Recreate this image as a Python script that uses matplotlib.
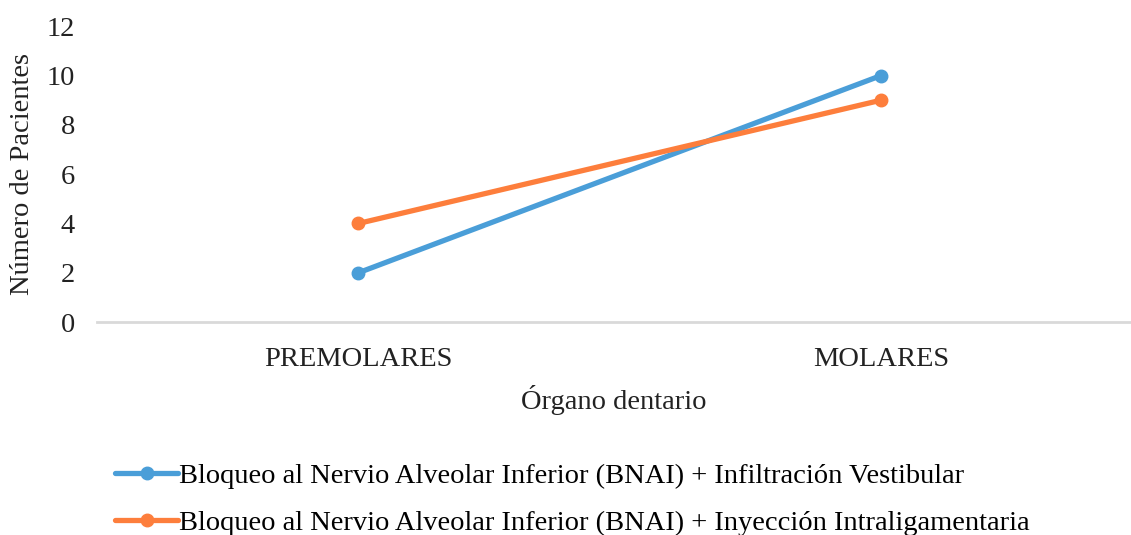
import matplotlib
matplotlib.use("Agg")
import matplotlib.pyplot as plt

# datos
categorias = ["PREMOLARES", "MOLARES"]
bnai_vestibular = [2, 10]
bnai_intraligamentaria = [4, 9]
etiquetas = [
    "Bloqueo al Nervio Alveolar Inferior (BNAI) + Infiltración Vestibular",
    "Bloqueo al Nervio Alveolar Inferior (BNAI) + Inyección Intraligamentaria",
]
yticks = [0, 2, 4, 6, 8, 10, 12]

plt.rcParams['font.family'] = ['Liberation Serif', 'DejaVu Serif']
FS = 20.5

fig = plt.figure(figsize=(11.31, 5.35), dpi=100)
ax = fig.add_axes([0.0858, 0.398, 1.0 - 0.0858, 0.553])

x = list(range(len(categorias)))
ax.plot(x, bnai_vestibular, color='#4A9ED8', lw=3.8, marker='o', ms=9,
        label=etiquetas[0], solid_capstyle='round')
ax.plot(x, bnai_intraligamentaria, color='#FD7E3C', lw=3.8, marker='o', ms=9,
        label=etiquetas[1], solid_capstyle='round')

ax.set_xlim(-0.5, 1.478)
ax.set_ylim(0, 12)
ax.set_yticks(yticks)
ax.set_xticks(x)
ax.set_xticklabels(categorias)
ax.tick_params(axis='both', length=0, labelsize=FS, colors='#222222')
ax.tick_params(axis='y', pad=16)
ax.tick_params(axis='x', pad=18)

for s in ['top', 'right', 'left']:
    ax.spines[s].set_visible(False)
ax.spines['bottom'].set_color('#D9D9D9')
ax.spines['bottom'].set_linewidth(2)

ax.set_ylabel("Número de Pacientes", fontsize=FS, color='#222222', labelpad=8)
ax.set_xlabel("Órgano dentario", fontsize=FS, color='#222222', labelpad=9)

fig.legend(loc='upper left', bbox_to_anchor=(0.102, 0.135), frameon=False,
           fontsize=FS, handlelength=2.2, handletextpad=0.05, labelspacing=0.75,
           borderaxespad=0, borderpad=0)

fig.savefig("out.png", dpi=100)
